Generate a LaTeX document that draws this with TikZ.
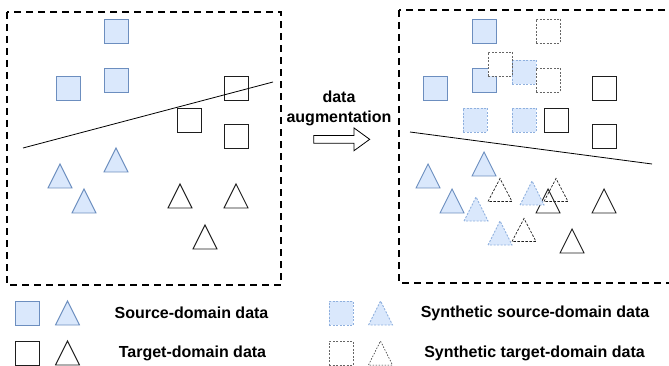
\documentclass[tikz,border=0pt]{standalone}
\usepackage{fontspec}
\setmainfont{Liberation Sans}
\usetikzlibrary{positioning,shapes.arrows}
\definecolor{srcfill}{HTML}{DAE8FC}
\definecolor{srcline}{HTML}{6C8EBF}
\definecolor{synline}{HTML}{8FB0DE}
\definecolor{tgtline}{RGB}{30,30,30}
\tikzset{
  srcsq/.style={draw=srcline, fill=srcfill, line width=0.9pt, minimum size=24pt, inner sep=0pt},
  tgtsq/.style={draw=tgtline, fill=white, line width=0.9pt, minimum size=24pt, inner sep=0pt},
  synsrcsq/.style={srcsq, draw=synline, dash pattern=on 2pt off 1.5pt},
  syntgtsq/.style={tgtsq, draw=gray!80!black, line width=0.7pt, dash pattern=on 2pt off 1.5pt},
  srctri/.style={draw=srcline, fill=srcfill, line width=0.9pt},
  tgttri/.style={draw=tgtline, fill=white, line width=0.9pt},
  synsrctri/.style={srctri, draw=synline, dash pattern=on 2pt off 1.5pt},
  syntgttri/.style={draw=tgtline, line width=0.7pt, dash pattern=on 2.5pt off 1.5pt},
  pics/tri/.style={code={\path[pic actions] (-12,12) -- (0,-12) -- (12,12) -- cycle;}},
  domainbox/.style={draw, line width=2pt, dash pattern=on 7pt off 5pt},
  legtext/.style={font=\fontsize{16}{20}\selectfont\bfseries},
}
\begin{document}
\begin{tikzpicture}[x=1pt, y=-1pt]
\useasboundingbox (0,0) rectangle (669,366);
\clip (0,0) rectangle (669,366);
% Domain boxes
\draw[domainbox] (7,12) rectangle (281,285);
\draw[domainbox] (399,10) rectangle (673,283);
% Left: original data
\foreach \i/\x/\y in {1/116/31, 2/68/88, 3/116/80}
  \node[srcsq] (ls\i) at (\x,\y) {};
\foreach \i/\x/\y in {1/236/88, 2/189/120, 3/236/136}
  \node[tgtsq] (lt\i) at (\x,\y) {};
\foreach \x/\y in {116/160, 60/176, 84/201}
  \pic[srctri] at (\x,\y) {tri};
\foreach \x/\y in {180/196, 236/196, 205/237}
  \pic[tgttri] at (\x,\y) {tri};
% Left decision boundary
\coordinate (lbA) at (23,148);
\coordinate (lbB) at (273,82);
\draw[line width=0.8pt] (lbA) -- (lbB);
% Augmentation arrow
\node[legtext, align=center] (aug) at (339,108) {data\\augmentation};
\node[draw, line width=0.8pt, single arrow, minimum height=56pt, inner ysep=3.5pt, inner xsep=0pt,
  single arrow head extend=7.5pt, single arrow tip angle=72, below=6pt of aug] (augarrow) {};
% Right: original + synthetic data
\foreach \i/\x/\y in {1/484/31, 2/435/88, 3/484/80}
  \node[srcsq] (rs\i) at (\x,\y) {};
\foreach \i/\x/\y in {1/604/88, 2/556/120, 3/604/136}
  \node[tgtsq] (rt\i) at (\x,\y) {};
\foreach \i/\x/\y in {1/524/72, 2/475/120, 3/524/120}
  \node[synsrcsq] (rss\i) at (\x,\y) {};
\foreach \i/\x/\y in {1/548/31, 2/500/64, 3/548/80}
  \node[syntgtsq] (rst\i) at (\x,\y) {};
\foreach \x/\y in {484/164, 428/176, 452/201}
  \pic[srctri] at (\x,\y) {tri};
\foreach \x/\y in {548/201, 604/201, 572/241}
  \pic[tgttri] at (\x,\y) {tri};
\foreach \x/\y in {476/209, 532/193, 500/233}
  \pic[synsrctri] at (\x,\y) {tri};
\foreach \x/\y in {500/190, 556/190, 524/230}
  \pic[syntgttri, yscale=0.96] at (\x,\y) {tri};
% Right decision boundary
\coordinate (rbA) at (410,132);
\coordinate (rbB) at (652,164);
\draw[line width=0.8pt] (rbA) -- (rbB);
% Legend
\node[srcsq] (legS) at (27.5,313) {};
\pic[srctri] at (67.5,313) {tri};
\node[legtext] (legStxt) at (191.5,313) {Source-domain data};
\node[tgtsq] (legT) at (27.5,353) {};
\pic[tgttri] at (67.5,353) {tri};
\node[legtext] (legTtxt) at (192.5,353) {Target-domain data};
\node[synsrcsq] (legSS) at (341,313) {};
\pic[synsrctri] at (380.5,313) {tri};
\node[legtext] (legSStxt) at (535,313) {Synthetic source-domain data};
\node[syntgtsq] (legST) at (341,353) {};
\pic[syntgttri, line width=0.5pt, dash pattern=on 1.5pt off 1.5pt] at (380.5,353) {tri};
\node[legtext] (legSTtxt) at (534.5,353) {Synthetic target-domain data};
\end{tikzpicture}
\end{document}
